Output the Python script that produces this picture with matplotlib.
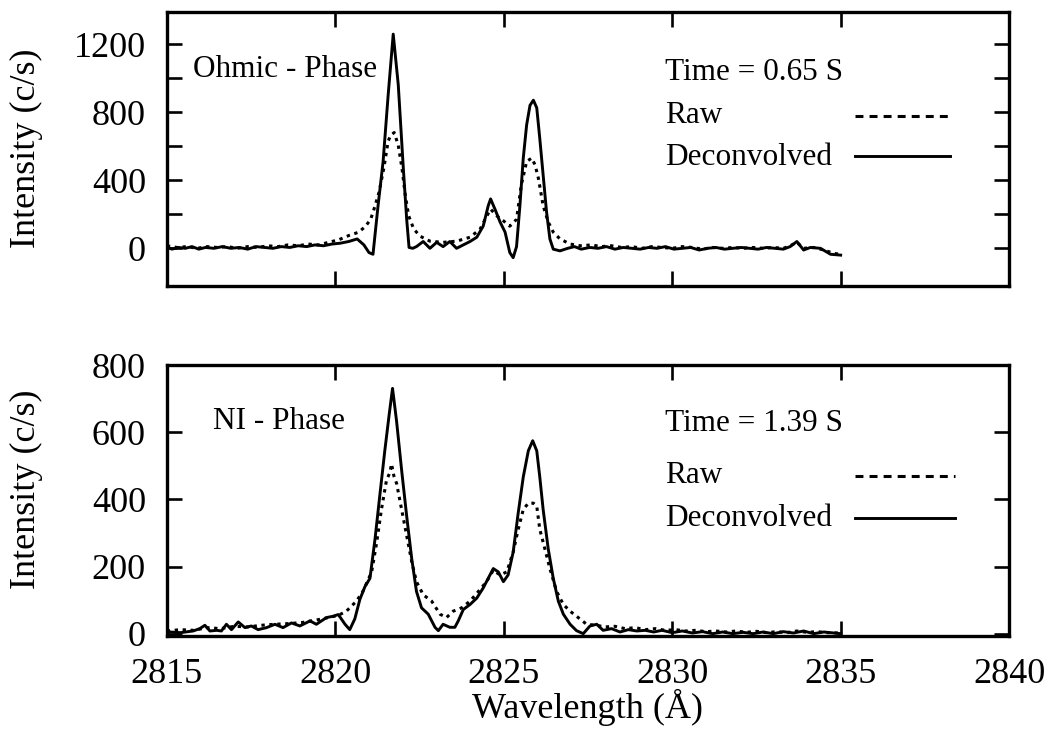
#!/usr/bin/env python3
"""
BIV (2823A) triplet spectra: raw vs deconvolved, Ohmic phase and NI phase
"""

import matplotlib
matplotlib.use('Agg')
import matplotlib.pyplot as plt
from matplotlib.ticker import FixedLocator

# ---- data ----
# Ohmic phase, t = 0.65 s
wl_ohm_dec = [2815.00, 2815.15, 2815.35, 2815.55, 2815.75, 2815.95, 2816.15, 2816.40,
              2816.65, 2816.90, 2817.15, 2817.40, 2817.65, 2817.90, 2818.15, 2818.40,
              2818.65, 2818.90, 2819.15, 2819.40, 2819.65, 2819.90, 2820.15, 2820.40,
              2820.65, 2820.85, 2821.00, 2821.12, 2821.27, 2821.42, 2821.57, 2821.72,
              2821.87, 2822.02, 2822.12, 2822.19, 2822.30, 2822.41, 2822.61, 2822.81,
              2823.01, 2823.20, 2823.40, 2823.60, 2823.80, 2824.00, 2824.20, 2824.39,
              2824.54, 2824.61, 2824.74, 2824.89, 2825.04, 2825.18, 2825.28, 2825.38,
              2825.48, 2825.58, 2825.68, 2825.78, 2825.88, 2825.98, 2826.07, 2826.17,
              2826.27, 2826.37, 2826.47, 2826.67, 2826.90, 2827.10, 2827.30, 2827.55,
              2827.80, 2828.05, 2828.30, 2828.55, 2828.80, 2829.05, 2829.30, 2829.55,
              2829.80, 2830.05, 2830.30, 2830.55, 2830.80, 2831.05, 2831.30, 2831.55,
              2831.80, 2832.05, 2832.30, 2832.55, 2832.80, 2833.05, 2833.30, 2833.50,
              2833.70, 2833.90, 2834.10, 2834.40, 2834.70, 2835.00]
int_ohm_dec = [10, -5, 5, 0, 10, -5, 5, 0,
               10, 0, 5, -5, 10, 5, 0, 10,
               5, 15, 10, 20, 15, 25, 30, 40,
               55, 20, -25, -35, 250, 510, 900, 1258,
               960, 470, 170, 5, 0, 10, 40, 0,
               35, 10, 40, 0, 20, 40, 65, 130,
               250, 290, 230, 155, 95, -25, -55, 10,
               250, 530, 725, 840, 870, 825, 645, 430,
               215, 55, -5, -15, 0, 10, -5, 5,
               0, 10, -5, 5, 0, -5, 5, 0,
               10, -5, 0, 5, -10, 0, 5, -5,
               0, 5, 0, -5, 5, 0, -5, 10,
               40, -10, 5, 0, -35, -40]

wl_ohm_raw = [2815.00, 2815.30, 2815.60, 2815.90, 2816.20, 2816.50, 2816.80, 2817.10,
              2817.40, 2817.70, 2818.00, 2818.30, 2818.60, 2818.90, 2819.20, 2819.50,
              2819.80, 2820.10, 2820.40, 2820.70, 2820.90, 2821.05, 2821.15, 2821.30,
              2821.45, 2821.57, 2821.65, 2821.75, 2821.87, 2821.98, 2822.08, 2822.18,
              2822.33, 2822.52, 2822.81, 2823.20, 2823.60, 2824.00, 2824.30, 2824.50,
              2824.61, 2824.80, 2825.00, 2825.18, 2825.38, 2825.52, 2825.68, 2825.83,
              2825.93, 2826.03, 2826.17, 2826.32, 2826.47, 2826.67, 2826.97, 2827.27,
              2827.60, 2827.90, 2828.20, 2828.50, 2828.80, 2829.10, 2829.40, 2829.70,
              2830.00, 2830.30, 2830.60, 2830.90, 2831.20, 2831.50, 2831.80, 2832.10,
              2832.40, 2832.70, 2833.00, 2833.30, 2833.50, 2833.70, 2833.90, 2834.20,
              2834.50, 2834.80, 2835.00]
int_ohm_raw = [15, 5, 10, 0, 10, 5, 10, 0,
               10, 5, 15, 10, 20, 15, 25, 20,
               35, 50, 75, 95, 130, 170, 230, 330,
               480, 630, 665, 680, 605, 470, 310, 190,
               113, 71, 42, 35, 42, 65, 113, 190,
               230, 190, 160, 130, 170, 370, 510, 530,
               490, 410, 250, 155, 95, 55, 25, 15,
               20, 10, 15, 5, 10, 0, 10, 5,
               0, 10, 5, -5, 5, 0, 5, 0,
               5, 0, 5, 0, 15, 35, 0, 5,
               -10, -30, -35]

# NI phase, t = 1.39 s
wl_ni_dec = [2815.00, 2815.09, 2815.40, 2815.78, 2815.98, 2816.13, 2816.28, 2816.48,
             2816.62, 2816.77, 2816.92, 2817.12, 2817.32, 2817.51, 2817.71, 2817.96,
             2818.21, 2818.45, 2818.70, 2818.95, 2819.25, 2819.44, 2819.74, 2819.94,
             2820.09, 2820.29, 2820.43, 2820.58, 2820.73, 2820.88, 2821.03, 2821.18,
             2821.32, 2821.47, 2821.60, 2821.70, 2821.82, 2821.97, 2822.12, 2822.27,
             2822.41, 2822.56, 2822.76, 2822.96, 2823.06, 2823.20, 2823.40, 2823.55,
             2823.65, 2823.80, 2824.00, 2824.20, 2824.39, 2824.54, 2824.69, 2824.84,
             2824.99, 2825.13, 2825.28, 2825.43, 2825.58, 2825.73, 2825.86, 2825.98,
             2826.07, 2826.17, 2826.32, 2826.47, 2826.62, 2826.77, 2826.97, 2827.16,
             2827.36, 2827.56, 2827.76, 2827.95, 2828.20, 2828.45, 2828.70, 2828.95,
             2829.20, 2829.45, 2829.70, 2830.00, 2830.30, 2830.60, 2830.90, 2831.20,
             2831.50, 2831.80, 2832.10, 2832.40, 2832.70, 2833.00, 2833.30, 2833.60,
             2833.90, 2834.20, 2834.50, 2834.80, 2835.00]
int_ni_dec = [4, 5, 3, 8, 15, 25, 8, 10,
              8, 28, 12, 35, 18, 23, 12, 18,
              28, 18, 32, 23, 38, 28, 48, 52,
              57, 28, 12, 44, 102, 140, 165, 282,
              410, 545, 653, 731, 633, 487, 350, 223,
              126, 77, 58, 19, 9, 28, 19, 19,
              38, 72, 87, 106, 136, 165, 194, 184,
              155, 175, 243, 360, 467, 545, 575, 545,
              467, 370, 253, 165, 97, 58, 28, 9,
              0, 23, 28, 10, 15, 5, 12, 8,
              10, 5, 10, 3, 8, 2, 6, 0,
              5, 0, 4, 0, 5, 0, 6, 2,
              8, 0, 5, 2, 0]

wl_ni_raw = [2815.00, 2815.40, 2815.80, 2816.20, 2816.60, 2817.00, 2817.40, 2817.80,
             2818.20, 2818.60, 2819.00, 2819.40, 2819.80, 2820.10, 2820.33, 2820.63,
             2820.82, 2821.08, 2821.23, 2821.37, 2821.52, 2821.62, 2821.67, 2821.74,
             2821.82, 2821.97, 2822.12, 2822.27, 2822.41, 2822.61, 2822.86, 2823.11,
             2823.30, 2823.50, 2823.75, 2824.00, 2824.25, 2824.49, 2824.69, 2824.89,
             2825.09, 2825.28, 2825.43, 2825.58, 2825.73, 2825.88, 2825.98, 2826.07,
             2826.22, 2826.37, 2826.57, 2826.77, 2826.97, 2827.21, 2827.46, 2827.76,
             2828.00, 2828.30, 2828.60, 2828.90, 2829.20, 2829.50, 2829.80, 2830.10,
             2830.40, 2830.70, 2831.00, 2831.30, 2831.60, 2831.90, 2832.20, 2832.50,
             2832.80, 2833.10, 2833.40, 2833.70, 2834.00, 2834.30, 2834.60, 2835.00]
int_ni_raw = [8, 12, 10, 18, 15, 22, 20, 25,
              28, 30, 33, 40, 48, 55, 67, 97,
              126, 184, 272, 370, 457, 480, 506, 470,
              448, 370, 292, 214, 155, 116, 97, 58,
              48, 67, 77, 97, 126, 155, 189, 175,
              184, 243, 311, 370, 389, 389, 380, 311,
              253, 194, 126, 87, 67, 48, 28, 25,
              20, 22, 15, 18, 12, 15, 10, 12,
              8, 10, 6, 8, 5, 8, 4, 7,
              3, 6, 3, 8, 4, 6, 3, 2]

x_ticks = [2815, 2820, 2825, 2830, 2835, 2840]
ohm_major = [0, 400, 800, 1200]
ohm_minor = [200, 600, 1000]
ni_ticks = [0, 200, 400, 600, 800]

plt.rcParams['font.family'] = ['Liberation Serif', 'DejaVu Serif']

RAW_STYLE = dict(color='black', lw=2.2, linestyle=(0, (1.1, 1.5)))
DEC_STYLE = dict(color='black', lw=2.1, linestyle='-')


def style_axes(ax):
    for sp in ax.spines.values():
        sp.set_linewidth(2.4)
    ax.tick_params(which='both', direction='in', length=11, width=1.9,
                   top=True, right=True, labelsize=26)
    ax.tick_params(axis='y', which='both', pad=15)
    ax.tick_params(axis='x', which='both', pad=16)
    ax.set_xlim(2815, 2840)
    ax.set_xticks(x_ticks)


def annotate(ax, phase, phase_x, time_txt, rows_y, key_x):
    """Phase label, time label and the hand-made key"""
    ax.text(phase_x, rows_y[0], phase, transform=ax.transAxes, fontsize=22.5,
            va='baseline', ha='left')
    ax.text(0.592, rows_y[1], time_txt, transform=ax.transAxes, fontsize=22.5,
            va='baseline', ha='left')
    ax.text(0.592, rows_y[2], 'Raw', transform=ax.transAxes, fontsize=22.5,
            va='baseline', ha='left')
    ax.text(0.592, rows_y[3], 'Deconvolved', transform=ax.transAxes, fontsize=22.5,
            va='baseline', ha='left')
    # key samples
    ax.plot(key_x, [rows_y[2] + 0.025] * 2, transform=ax.transAxes,
            color='black', lw=2.2, linestyle=(0, (2.6, 2.0)))
    ax.plot(key_x, [rows_y[3] + 0.03] * 2, transform=ax.transAxes,
            color='black', lw=2.1)


fig = plt.figure(figsize=(10.49, 7.29), dpi=100)

# ---- top panel: Ohmic phase ----
ax1 = fig.add_axes([0.159, 0.608, 0.803, 0.376])
ax1.plot(wl_ohm_raw, int_ohm_raw, **RAW_STYLE)
ax1.plot(wl_ohm_dec, int_ohm_dec, **DEC_STYLE)
style_axes(ax1)
ax1.set_ylim(-220, 1390)
ax1.yaxis.set_major_locator(FixedLocator(ohm_major))
ax1.yaxis.set_minor_locator(FixedLocator(ohm_minor))
ax1.tick_params(labelbottom=False)
ax1.set_ylabel('Intensity (c/s)', fontsize=26)
ax1.yaxis.set_label_coords(-0.147, 0.5)
annotate(ax1, 'Ohmic - Phase', 0.031, 'Time = 0.65 S',
         [0.763, 0.752, 0.595, 0.442], [0.817, 0.93])

# ---- bottom panel: NI phase ----
ax2 = fig.add_axes([0.159, 0.128, 0.803, 0.371])
ax2.plot(wl_ni_raw, int_ni_raw, **RAW_STYLE)
ax2.plot(wl_ni_dec, int_ni_dec, **DEC_STYLE)
style_axes(ax2)
ax2.set_ylim(-6, 800)
ax2.set_yticks(ni_ticks)
ax2.set_ylabel('Intensity (c/s)', fontsize=26)
ax2.yaxis.set_label_coords(-0.147, 0.54)
ax2.set_xlabel('Wavelength (Å)', fontsize=26)
ax2.xaxis.set_label_coords(0.5, -0.195)
annotate(ax2, 'NI - Phase', 0.055, 'Time = 1.39 S',
         [0.764, 0.756, 0.565, 0.406], [0.817, 0.936])

fig.savefig('out.png', dpi=100, facecolor='white')
plt.close(fig)
